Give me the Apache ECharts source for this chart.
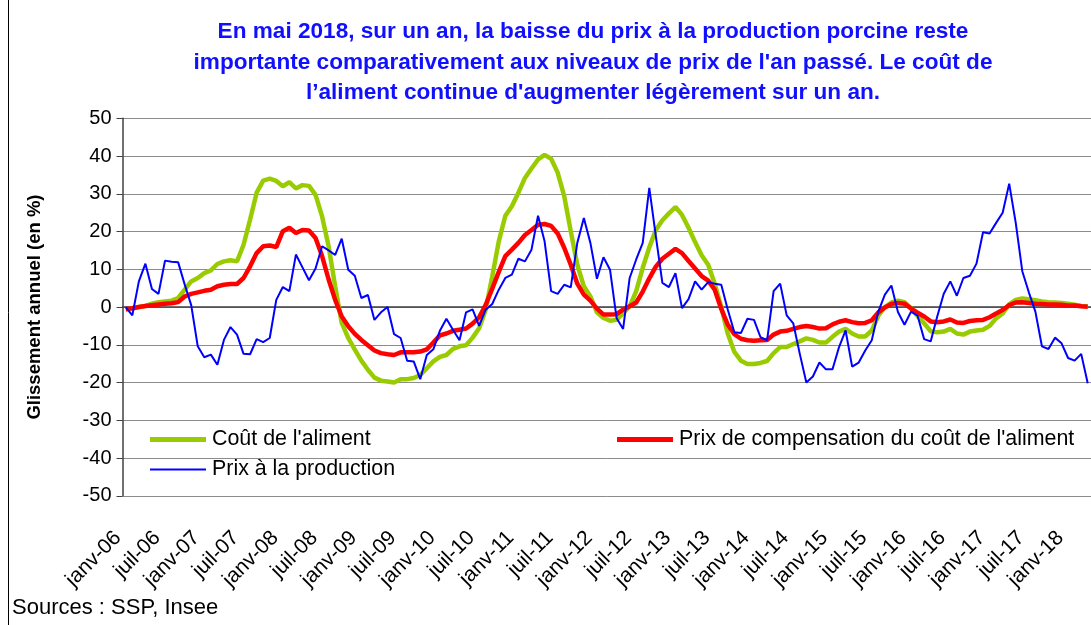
<!DOCTYPE html>
<html>
<head>
<meta charset="utf-8">
<script src="https://cdn.jsdelivr.net/npm/echarts@6/dist/echarts.min.js"></script>
<style>
html,body{margin:0;padding:0;background:#fff;}
#chart{width:1091px;height:625px;}
</style>
</head>
<body>
<div id="chart"></div>
<script>
// Months janv-06 .. avr-18 (visible part of the chart)
const monthNames = ['janv','févr','mars','avr','mai','juin','juil','août','sept','oct','nov','déc'];
const years = ['06','07','08','09','10','11','12','13','14','15','16','17','18'];
const categories = [];
years.forEach(function(y){ monthNames.forEach(function(m){ categories.push(m + '-' + y); }); });
categories.length = 148;

const seriesNames = ["Coût de l'aliment", "Prix de compensation du coût de l'aliment", "Prix à la production"];

const coutAliment = [
 -0.7,-0.4,0,0.3,0.9,1.3,1.5,1.7,2.4,4.6,6.8,7.7,9,9.7,11.4,12.1,12.4,12.1,16.5,23.2,30.3,33.5,34,33.4,32,
 33.1,31.4,32.3,32.1,29.7,24,16.1,5.5,-4.2,-8.2,-11.3,-14.2,-16.6,-18.7,-19.5,-19.7,-20,-19.1,-19.1,-18.8,-18,-16.2,-14.4,-13.2,
 -12.7,-11.1,-10.4,-10.1,-8.1,-5.6,-0.7,8.1,17.4,24.2,26.7,30.3,34.2,36.7,39.1,40.3,39.3,35.6,29.4,20.1,11.2,5.5,2.8,-1.4,
 -2.9,-3.6,-3.4,-1.6,0.2,4.2,10.4,15.8,20.4,23,24.8,26.5,24.4,21,17.2,13.7,11.2,6.2,0,-7.1,-11.9,-14.2,-15.1,-15.1,
 -14.8,-14.3,-12.2,-10.6,-10.6,-9.8,-9.1,-8.3,-8.7,-9.4,-9.4,-7.9,-6.5,-5.8,-7,-7.8,-7.8,-6.2,-2.3,0,1.2,1.7,1.3,-0.3,
 -2.4,-4.3,-6.4,-6.7,-6.5,-5.8,-7,-7.3,-6.5,-6.2,-6,-5,-3,-1.7,0.7,1.9,2.3,2.1,1.8,1.5,1.3,1.2,1.1,0.9,0.6,0.3,0.2
];

const prixCompensation = [
 -0.5,-0.3,0,0.3,0.5,0.7,0.9,1,1.3,2.8,3.5,3.9,4.3,4.6,5.5,5.9,6.1,6.1,7.7,10.8,14.3,16.1,16.3,15.9,20.1,
 21,19.6,20.4,20.3,18.3,13.5,7.3,1.9,-2.5,-5.1,-7.1,-8.7,-10.1,-11.5,-12.2,-12.5,-12.7,-12,-12,-12,-11.8,-11.2,-9.4,-7.5,
 -7,-6.3,-6,-5.7,-4.4,-2.7,0.6,4.9,9.3,13.5,15.2,17,19.1,20.4,21.8,22,21.5,19.5,15.7,11.2,6.2,3.3,1.7,-0.4,
 -2,-2,-1.9,-0.7,0.2,1.2,4.1,7.6,10.7,12.8,14.1,15.4,14.3,12.2,10.2,8.2,7,4.6,-0.5,-4.7,-7.2,-8.4,-8.8,-8.9,
 -8.8,-8.7,-7.3,-6.5,-6.3,-5.8,-5.3,-5,-5.3,-5.7,-5.6,-4.6,-3.9,-3.5,-4,-4.3,-4.2,-3.5,-1.4,-0.1,0.8,1.1,0.9,-0.4,
 -1.5,-2.5,-3.8,-4,-3.8,-3.3,-4.1,-4.2,-3.7,-3.5,-3.4,-2.7,-1.7,-0.8,0.5,1.2,1.3,1.1,0.9,0.8,0.7,0.7,0.6,0.4,0.4,0.2,0.1
];

const prixProduction = [
 0,-2.2,6.8,11.5,4.8,3.5,12.3,12,11.9,6,0.5,-10.4,-13.3,-12.6,-15.3,-8.7,-5.3,-7.3,-12.4,-12.5,-8.5,-9.3,-8.2,1.9,5.3,
 4.2,13.9,10.5,7.1,10.2,16.1,15,13.8,18.1,9.9,8.3,2.4,3.2,-3.4,-1.4,0,-7.2,-8.2,-14.2,-14.4,-19.1,-12.7,-11.2,-6.3,
 -3.1,-6,-8.8,-1.4,-0.6,-5,-0.7,0.8,4.6,7.7,8.6,12.8,12.1,15.2,24.2,17.4,4.2,3.5,5.9,5.2,17,23.6,17,7.5,
 13.2,9.9,-2.9,-5.8,7.7,12.6,17,31.6,18.8,6.4,5.3,9,-0.3,2.1,6.8,4.6,6.6,6.2,5.9,-0.7,-6.7,-6.9,-3.1,-3.4,
 -8,-8.8,4.2,6.2,-2.2,-4.3,-12.4,-20,-18.4,-14.7,-16.5,-16.5,-10.6,-6.2,-15.8,-14.7,-11.5,-8.8,-1.2,3.3,5.7,-1.3,-4.7,-1.2,
 -2.3,-8.5,-9.1,-2.5,3.5,6.8,3,7.7,8.3,11.5,19.8,19.5,22.3,25,32.7,22.3,9.5,3.9,-1.2,-10.4,-11.1,-8.1,-9.6,-13.5,-14.2,-12.4,-20.2
];

const titleLines = [
 "En mai 2018, sur un an, la baisse du prix à la production porcine reste",
 "importante comparativement aux niveaux de prix de l'an passé. Le coût de",
 "l’aliment continue d'augmenter légèrement sur un an."
];
const yAxisTitle = "Glissement annuel (en %)";
const sourceText = "Sources : SSP, Insee";

const FONT = "'Liberation Sans', Arial, sans-serif";
const chart = echarts.init(document.getElementById('chart'), null, {renderer: 'canvas'});

function legendCfg(name, left, top, h, color) {
  return {
    data: [{name: name, icon: 'rect', itemStyle: {color: color}}],
    left: left, top: top, itemWidth: 56, itemHeight: h, itemGap: 0,
    padding: 0, selectedMode: false,
    textStyle: {fontFamily: FONT, fontSize: 21.4, color: '#000', padding: [0, 0, 0, 1]}
  };
}

chart.setOption({
  animation: false,
  backgroundColor: '#fff',
  title: {
    text: titleLines.join('\n'),
    left: 588, top: 12, textAlign: 'center',
    textStyle: {fontFamily: FONT, fontSize: 22.6, fontWeight: 'bold', color: '#1010FF', lineHeight: 30.5}
  },
  legend: [
    legendCfg(seriesNames[0], 150, 429, 5, '#99CC00'),
    legendCfg(seriesNames[1], 617, 429, 5, '#FF0000'),
    legendCfg(seriesNames[2], 150, 459, 2, '#0000FF')
  ],
  grid: {left: 122.5, top: 118.3, width: 972, height: 377.5, containLabel: false},
  xAxis: {
    type: 'category', data: categories, boundaryGap: true,
    axisLine: {lineStyle: {color: '#404040', width: 1.5}},
    axisTick: {interval: 5, length: 5, lineStyle: {color: '#404040'}},
    axisLabel: {interval: 5, rotate: 45, margin: 31, padding: [0, 11, 0, 0], fontFamily: FONT, fontSize: 21, color: '#000'},
    splitLine: {show: false}
  },
  yAxis: {
    type: 'value', min: -50, max: 50, interval: 10,
    name: yAxisTitle, nameLocation: 'middle', nameRotate: 90, nameGap: 78,
    nameTextStyle: {fontFamily: FONT, fontSize: 18.5, fontWeight: 'bold', color: '#000'},
    axisLine: {show: true, lineStyle: {color: '#404040', width: 1.5}},
    axisTick: {show: true, length: 6, lineStyle: {color: '#404040'}},
    axisLabel: {margin: 11, fontFamily: FONT, fontSize: 20, color: '#000'},
    splitLine: {lineStyle: {color: '#8c8c8c', width: 1}}
  },
  graphic: [
    {type: 'text', left: 12, top: 597, style: {text: sourceText, font: "22px 'Liberation Sans', Arial, sans-serif", fill: '#000'}},
    {type: 'line', shape: {x1: 8.5, y1: 0, x2: 8.5, y2: 625}, style: {stroke: '#000', lineWidth: 1}}
  ],
  series: [
    {name: seriesNames[0], type: 'line', data: coutAliment, showSymbol: false, symbol: 'none',
     lineStyle: {color: '#99CC00', width: 4.5}, itemStyle: {color: '#99CC00'}, z: 2},
    {name: seriesNames[1], type: 'line', data: prixCompensation, showSymbol: false, symbol: 'none',
     lineStyle: {color: '#FF0000', width: 4.5}, itemStyle: {color: '#FF0000'}, z: 3},
    {name: seriesNames[2], type: 'line', data: prixProduction, showSymbol: false, symbol: 'none',
     lineStyle: {color: '#0000FF', width: 2}, itemStyle: {color: '#0000FF'}, z: 4}
  ]
});
</script>
</body>
</html>
